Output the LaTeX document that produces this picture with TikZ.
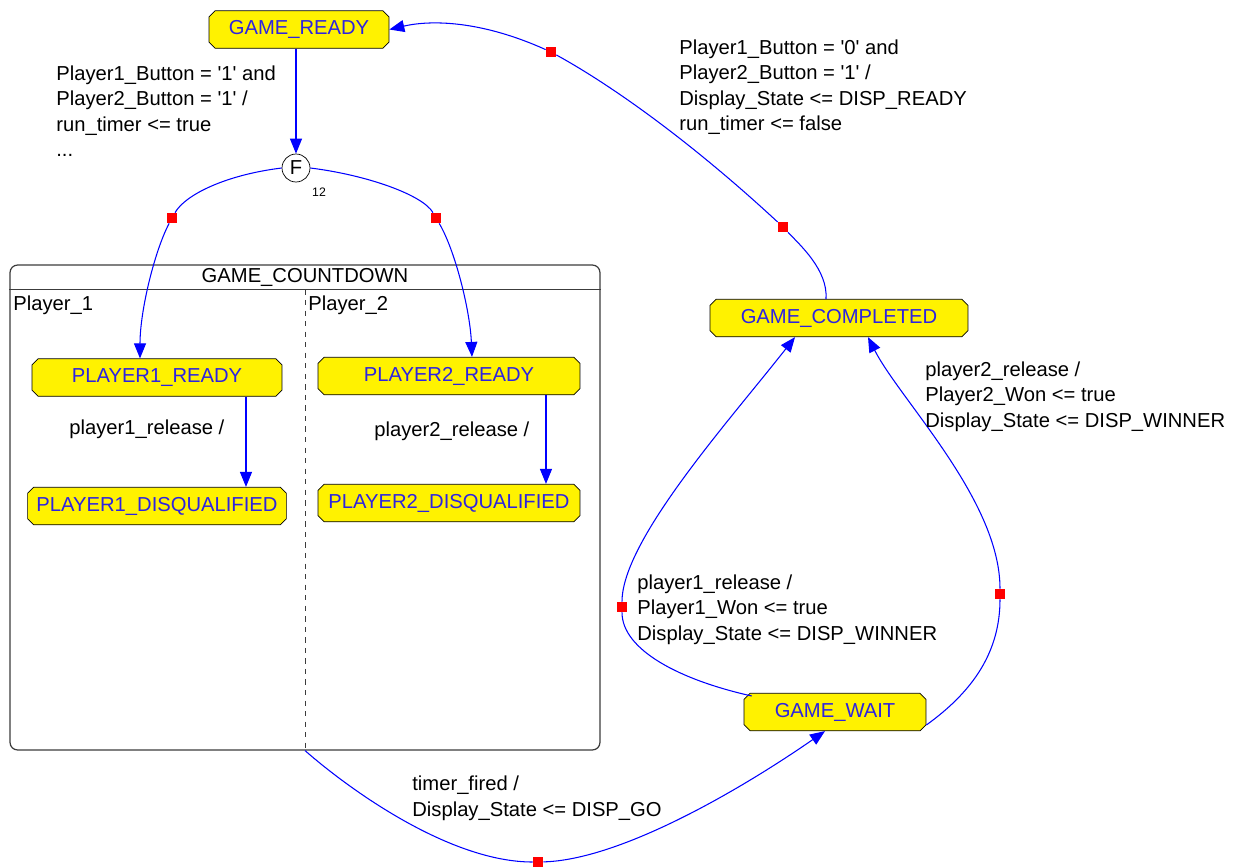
\documentclass[tikz,border=0pt]{standalone}
\usepackage{fontspec}
\setmainfont{Liberation Sans}
\usetikzlibrary{shapes.misc,arrows.meta}
\definecolor{stateblue}{RGB}{45,35,225}
\definecolor{regiongray}{RGB}{60,60,60}
\tikzset{%
  state/.style    = {shape=chamfered rectangle, chamfered rectangle xsep=0.6mm,%
                     chamfered rectangle ysep=0.6mm, draw, fill=yellow,%
                     text=stateblue, minimum height=7.5mm},%
  region/.style   = {rectangle, draw=regiongray, line width=0.7pt,%
                     rounded corners=1.5mm, minimum width=11.8cm, minimum height=9.7cm},%
  fork/.style     = {circle, draw, fill=white, inner sep=0pt, minimum size=5.6mm},%
  knot/.style     = {rectangle, fill=red, inner sep=0pt, minimum size=2mm},%
  line/.style     = {draw=blue, line width=0.6pt},%
  trans/.style    = {line, -{Triangle[length=3mm,width=2.4mm]}},%
  guard/.style    = {align=left, anchor=base west, inner sep=0pt},%
  lane/.style     = {anchor=west, inner sep=0pt}%
}
\newcommand{\sq}{\textquotesingle}
\begin{document}
\begin{tikzpicture}[x=0.02cm,y=-0.02cm,
	every node/.style = {font=\fontsize{11.5}{14.5}\selectfont}]
	\useasboundingbox (0,0) rectangle (1237,866);
	\node[region] (cdown) at (305,507.5) {};
	\node (cdtitle) at (305,277) {GAME\_COUNTDOWN};
	\draw[regiongray, line width=0.7pt] ([yshift=-5mm]cdown.north west) -- ([yshift=-5mm]cdown.north east);
	\draw[regiongray, dashed] ([yshift=-5mm]cdown.north) -- (cdown.south);
	\node[lane] (lane1) at (13,305) {Player\_1};
	\node[lane] (lane2) at (308,305) {Player\_2};

	\node[state, minimum width=3.6cm] (gready) at (299,29.5) {GAME\_READY};
	\node[fork] (F) at (296,168) {F};
	\node[font=\fontsize{7}{8}\selectfont] (Fnum) at (319,192) {12};
	\node[state, minimum width=5cm] (p1ready) at (157,377.5) {PLAYER1\_READY};
	\node[state, minimum width=5cm] (p1disq) at (157,506) {PLAYER1\_DISQUALIFIED};
	\node[state, minimum width=5.24cm] (p2ready) at (449,376) {PLAYER2\_READY};
	\node[state, minimum width=5.24cm] (p2disq) at (449,503) {PLAYER2\_DISQUALIFIED};
	\node[state, minimum width=5.16cm] (gcomp) at (839,318) {GAME\_COMPLETED};
	\node[state, minimum width=3.64cm] (gwait) at (835,712) {GAME\_WAIT};

	\node[knot] (h1) at (172,218) {};
	\node[knot] (h2) at (436,218) {};
	\node[knot] (h3) at (538,862) {};
	\node[knot] (h4) at (622,607) {};
	\node[knot] (h5) at (1000,594) {};
	\node[knot] (h6) at (783,227) {};
	\node[knot] (h7) at (551,52) {};

	\draw[trans] (F |- gready.south) -- (F);
	\draw[line] (F.west) .. controls (225,175) and (185,195) .. (h1);
	\draw[trans] (h1) .. controls (155,250) and (140,310) .. ([xshift=-3.4mm]p1ready.north);
	\draw[line] (F.east) .. controls (367,175) and (423,195) .. (h2);
	\draw[trans] (h2) .. controls (455,250) and (470,310) .. ([xshift=4.6mm]p2ready.north);
	\draw[trans] ([xshift=17.8mm]p1ready.south) -- ([xshift=17.8mm]p1disq.north);
	\draw[trans] ([xshift=19.4mm]p2ready.south) -- ([xshift=19.4mm]p2disq.north);
	\draw[line] (cdown.south) .. controls (350,790) and (450,862) .. (h3);
	\draw[trans] (h3) .. controls (620,860) and (740,790) .. ([xshift=-2mm]gwait.south);
	\draw[line] ([xshift=1mm]gwait.north west) .. controls (680,680) and (622,650) .. (h4);
	\draw[trans] (h4) .. controls (622,540) and (730,420) .. ([xshift=-8.8mm]gcomp.south);
	\draw[line] ([yshift=-2.6mm]gwait.east) .. controls (975,690) and (1000,650) .. (h5);
	\draw[trans] (h5) .. controls (1000,500) and (900,400) .. ([xshift=5.8mm]gcomp.south);
	\draw[line] ([xshift=-2.6mm]gcomp.north) .. controls (828,270) and (800,245) .. (h6);
	\draw[line] (h6) .. controls (700,150) and (620,90) .. (h7);
	\draw[trans] (h7) .. controls (480,20) and (430,20) .. (gready.east);

	\node[guard] (g1) at (56,156.5) {Player1\_Button = \sq1\sq{} and\\Player2\_Button = \sq1\sq{} /\\run\_timer <= true\\...};
	\node[guard] (g2) at (679,130.5) {Player1\_Button = \sq0\sq{} and\\Player2\_Button = \sq1\sq{} /\\Display\_State <= DISP\_READY\\run\_timer <= false};
	\node[guard] (g3) at (69,434) {player1\_release /};
	\node[guard] (g4) at (374,436) {player2\_release /};
	\node[guard] (g5) at (412,816) {timer\_fired /\\Display\_State <= DISP\_GO};
	\node[guard] (g6) at (637,640) {player1\_release /\\Player1\_Won <= true\\Display\_State <= DISP\_WINNER};
	\node[guard] (g7) at (925,427) {player2\_release /\\Player2\_Won <= true\\Display\_State <= DISP\_WINNER};
\end{tikzpicture}
\end{document}
